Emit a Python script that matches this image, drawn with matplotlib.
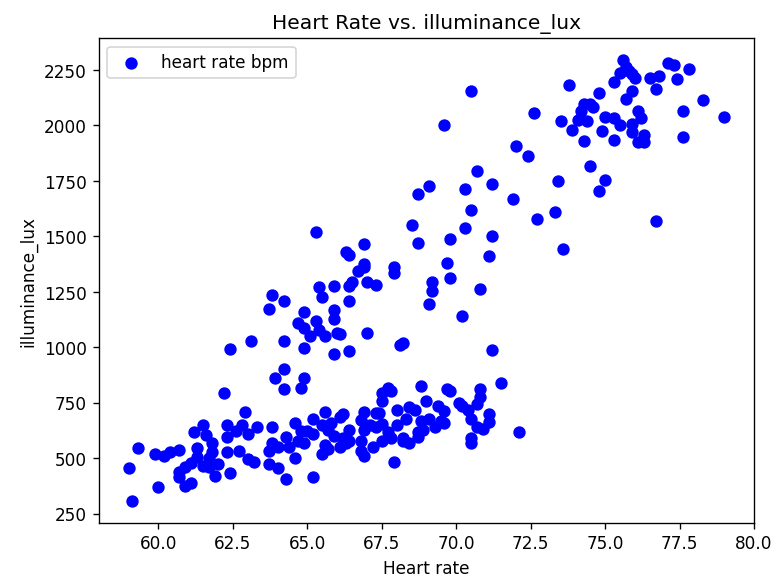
import matplotlib
matplotlib.use("Agg")
import matplotlib.pyplot as plt

# =========================
# DATA
# =========================
heart_rate = [
    59.0, 59.1, 59.3, 59.9, 60.0, 60.2, 60.4, 60.7, 60.7, 60.7, 60.9, 61.1, 60.9, 61.1,
    61.2, 61.3, 61.3, 61.5, 61.5, 61.6, 61.7, 61.8, 61.8, 61.9, 62.0, 61.7, 62.2, 62.3,
    62.3, 62.3, 62.4, 62.4, 62.6, 62.7, 62.8, 62.9, 63.0, 63.0, 63.2, 63.1, 63.3, 63.7,
    63.7, 63.8, 63.8, 63.7, 63.8, 63.9, 64.0, 64.0, 64.2, 64.2, 64.2, 64.2, 64.3, 64.3,
    64.4, 64.6, 64.6, 64.7, 64.8, 64.8, 64.9, 64.9, 64.9, 64.7, 64.9, 64.9, 65.0, 65.1,
    65.2, 65.2, 65.2, 65.3, 65.3, 65.4, 65.4, 65.5, 65.5, 65.5, 65.6, 65.6, 65.6, 65.7,
    65.7, 65.9, 65.9, 65.9, 65.9, 66.0, 65.8, 65.9, 66.1, 66.1, 66.1, 66.2, 66.2, 66.3,
    66.3, 66.4, 66.4, 66.4, 66.4, 66.4, 66.4, 66.5, 66.7, 66.8, 66.8, 66.8, 66.9, 66.9,
    66.9, 67.0, 67.0, 66.9, 66.9, 66.9, 67.1, 67.2, 67.3, 67.3, 67.3, 67.4, 67.5, 67.5,
    67.5, 67.5, 67.7, 67.7, 67.8, 67.8, 67.9, 67.9, 67.9, 68.0, 68.0, 68.1, 68.2, 68.2,
    68.2, 68.3, 68.4, 68.4, 68.5, 68.6, 68.7, 68.7, 68.7, 68.7, 68.8, 68.8, 68.9, 69.0,
    69.1, 69.1, 69.2, 69.2, 69.1, 69.3, 69.4, 69.5, 69.6, 69.6, 69.6, 69.7, 69.7, 69.8,
    69.8, 69.8, 70.1, 70.2, 70.2, 70.3, 70.3, 70.4, 70.5, 70.5, 70.5, 70.5, 70.5, 70.7,
    70.7, 70.8, 70.7, 70.8, 70.8, 70.9, 71.1, 71.1, 71.1, 71.2, 71.2, 71.2, 71.5, 71.9,
    72.0, 72.1, 72.4, 72.6, 72.7, 73.3, 73.4, 73.5, 73.6, 73.8, 73.9, 74.1, 74.2, 74.3,
    74.3, 74.4, 74.5, 74.5, 74.6, 74.8, 74.8, 74.9, 75.0, 75.0, 75.3, 75.3, 75.3, 75.5,
    75.5, 75.6, 75.7, 75.7, 75.8, 75.9, 75.9, 76.0, 75.9, 75.9, 76.1, 76.1, 76.2, 76.3,
    76.3, 76.5, 76.7, 76.7, 76.8, 77.1, 77.3, 77.4, 77.6, 77.6, 77.8, 78.3, 79.0,
]

illuminance_lux = [
    455, 308, 546, 517, 370, 512, 529, 539, 439, 414, 375, 387, 462, 479,
    617, 546, 506, 651, 467, 606, 501, 567, 529, 422, 476, 459, 793, 651,
    596, 529, 994, 434, 623, 534, 651, 710, 609, 496, 484, 1030, 639, 534,
    472, 643, 567, 1174, 1236, 863, 551, 455, 1209, 1030, 902, 813, 596, 405,
    551, 659, 501, 579, 818, 623, 860, 997, 1157, 1111, 1085, 567, 623, 1052,
    676, 609, 417, 1520, 1119, 1274, 1077, 1227, 517, 651, 562, 1052, 710, 626,
    542, 1277, 1169, 1127, 972, 1064, 659, 601, 1060, 684, 551, 701, 592, 567,
    1428, 1415, 1277, 1209, 985, 626, 576, 1294, 1344, 673, 534, 579, 1374, 1465,
    1361, 1294, 1064, 512, 626, 710, 651, 551, 639, 706, 1281, 706, 576, 793,
    760, 656, 818, 617, 801, 592, 1361, 1336, 484, 718, 651, 1010, 1019, 592,
    576, 676, 567, 730, 1553, 718, 1692, 617, 596, 1470, 826, 668, 629, 760,
    1725, 1197, 1294, 1252, 676, 643, 735, 668, 2000, 659, 713, 813, 1381, 801,
    1314, 1490, 751, 1141, 735, 1712, 1537, 718, 2155, 1620, 679, 592, 567, 643,
    1795, 1264, 743, 810, 776, 634, 1411, 701, 663, 1737, 1500, 987, 840, 1670,
    1907, 617, 1862, 2054, 1578, 1612, 1749, 2021, 1441, 2183, 1979, 2026, 2066, 1929,
    2096, 2021, 2096, 1816, 2083, 2146, 1704, 1976, 2038, 1754, 2196, 2033, 1933, 2000,
    2237, 2293, 2121, 2263, 2246, 2155, 2230, 2216, 2005, 1971, 1926, 2063, 2033, 1926,
    1959, 2216, 2166, 1570, 2221, 2280, 2272, 2210, 2063, 1949, 2255, 2113, 2038,
]


def main():
    fig, ax = plt.subplots(figsize=(6.4, 4.8), dpi=121.6)

    ax.scatter(heart_rate, illuminance_lux, color="blue", s=40, label="heart rate bpm")

    ax.set_title("Heart Rate vs. illuminance_lux")
    ax.set_xlabel("Heart rate")
    ax.set_ylabel("illuminance_lux")
    ax.legend(loc="upper left")

    fig.subplots_adjust(left=0.127, right=0.969, top=0.933, bottom=0.103)
    plt.savefig("out.png")
    plt.close()


if __name__ == "__main__":
    main()
